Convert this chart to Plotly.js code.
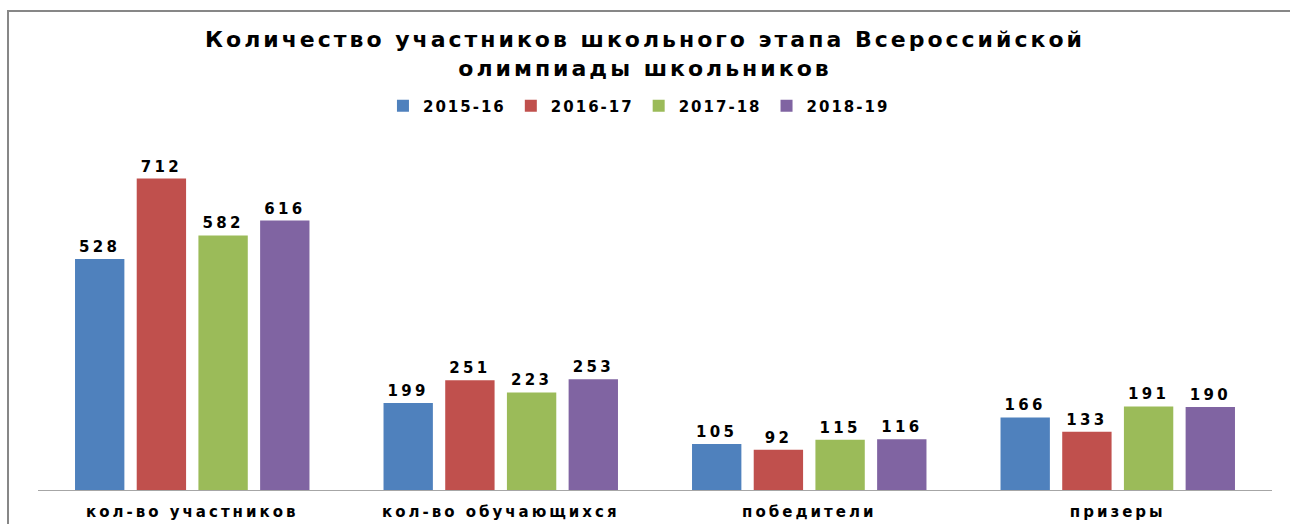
<!DOCTYPE html>
<html><head><meta charset="utf-8">
<script src="https://cdn.plot.ly/plotly-3.0.1.min.js"></script>
<style>
html,body{margin:0;padding:0;background:#fff;}
.gtitle{letter-spacing:3px;}
.xtick text{letter-spacing:3px;}
.bartext{letter-spacing:3.3px;}
.legendtext{letter-spacing:2px;}
</style>
</head><body>
<div id="chart" style="width:1290px;height:524px;"></div>
<script>
const categories = ["кол-во участников", "кол-во обучающихся", "победители", "призеры"];
const seriesNames = ["2015-16", "2016-17", "2017-18", "2018-19"];
const v2015 = [528, 199, 105, 166];
const v2016 = [712, 251, 92, 133];
const v2017 = [582, 223, 115, 191];
const v2018 = [616, 253, 116, 190];
const colors = ["#4F81BD", "#C0504D", "#9BBB59", "#8064A2"];
const allValues = [v2015, v2016, v2017, v2018];

const FONT = "DejaVu Sans, Verdana, sans-serif";
const traces = allValues.map((vals, i) => ({
  type: "bar",
  name: seriesNames[i],
  x: categories,
  y: vals,
  marker: {color: colors[i]},
  text: vals.map(String),
  textposition: "outside",
  textfont: {family: FONT, size: 15, color: "#000", weight: "bold"},
  cliponaxis: false,
  hoverinfo: "x+y"
}));

const layout = {
  width: 1290, height: 524,
  margin: {l: 38, r: 18, t: 140, b: 34},
  paper_bgcolor: "#fff", plot_bgcolor: "#fff",
  barmode: "group", bargap: 0.2, bargroupgap: 0.2,
  title: {
    text: "<b>Количество участников школьного этапа Всероссийской<br>олимпиады школьников</b>",
    font: {family: FONT, size: 22, color: "#000"},
    x: 0.5, xanchor: "center", y: 0.91, yanchor: "top", yref: "container"
  },
  legend: {
    orientation: "h", x: 0.487, xanchor: "center", y: 1.097, yanchor: "middle",
    font: {family: FONT, size: 15, color: "#000", weight: "bold"},
    itemwidth: 30, traceorder: "normal"
  },
  xaxis: {
    showline: true, linecolor: "#a6a6a6", linewidth: 1,
    ticks: "", showgrid: false, zeroline: false,
    tickfont: {family: FONT, size: 15, color: "#000", weight: "bold"},
    ticklabelstandoff: 8
  },
  yaxis: {
    range: [0, 800], visible: false, showgrid: false, zeroline: false
  },
  shapes: [{
    type: "path", xref: "paper", yref: "paper",
    path: "M -0.0243,-0.2 L -0.0243,1.3686 L 1.05,1.3686",
    line: {color: "#878787", width: 2}
  }]
};
Plotly.newPlot("chart", traces, layout, {displayModeBar: false, staticPlot: true});
</script>
</body></html>
